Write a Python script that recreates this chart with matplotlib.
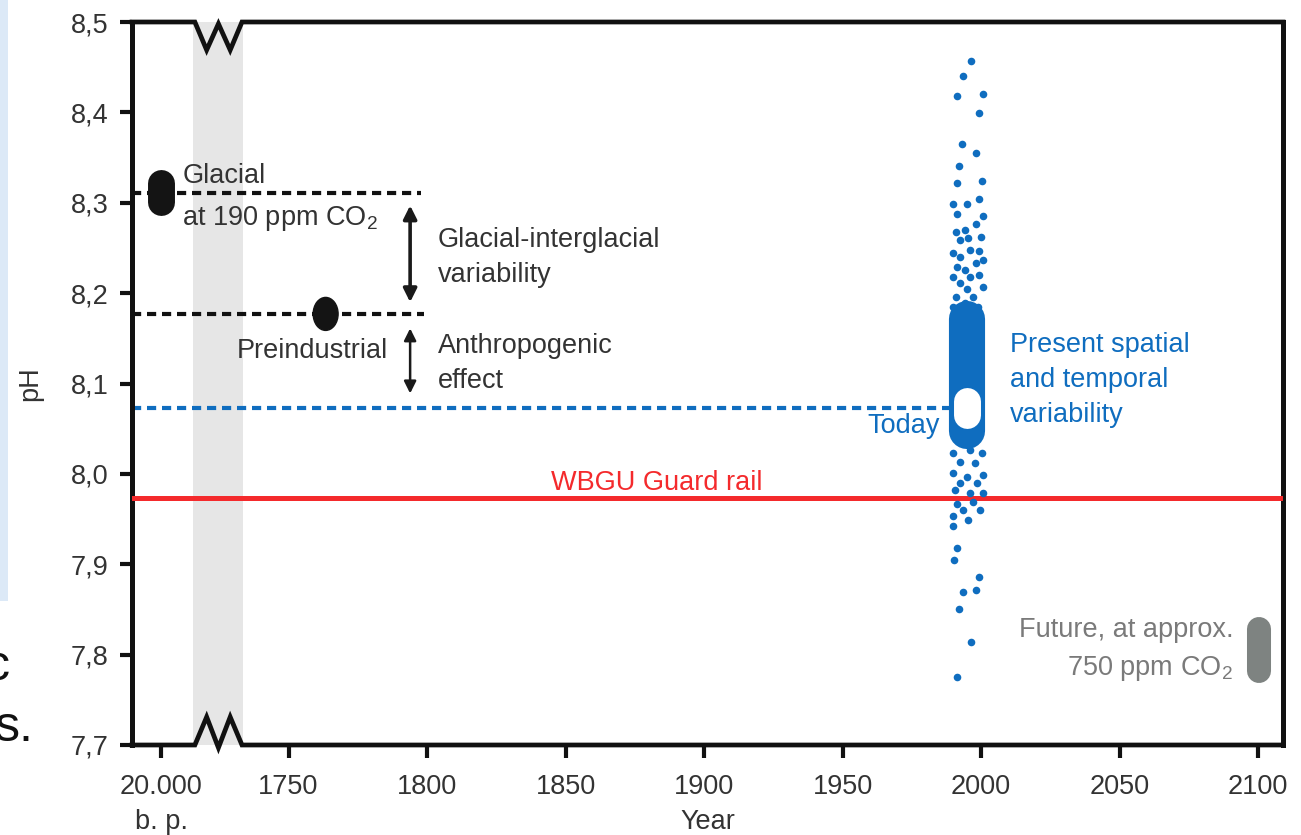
import matplotlib
matplotlib.use('Agg')
import matplotlib.pyplot as plt
from matplotlib.patches import Ellipse, Rectangle

plt.rcParams['font.family'] = ['Liberation Sans', 'DejaVu Sans']
plt.rcParams['mathtext.fontset'] = 'custom'
plt.rcParams['mathtext.rm'] = 'Liberation Sans'
plt.rcParams['mathtext.it'] = 'Liberation Sans:italic'

# axis ticks
year_ticks = [1750, 1800, 1850, 1900, 1950, 2000, 2050, 2100]
glacial_pos = 1704          # stand-in position for 20.000 b.p.
ph_ticks = [7.7, 7.8, 7.9, 8.0, 8.1, 8.2, 8.3, 8.4, 8.5]
ph_labels = ['7,7', '7,8', '7,9', '8,0', '8,1', '8,2', '8,3', '8,4', '8,5']

# reference levels
glacial_ph = 8.311
preind_ph = 8.177
preind_year = 1763.4
today_ph = 8.073
guardrail_ph = 7.973
future_year = 2100.4
future_lo, future_hi = 7.782, 7.828

# present spatial / temporal variability (dense core + single points)
core_year = 1995.0
core_lo, core_hi = 8.035, 8.183
pts_year = [1996.3, 1993.4, 1991.2, 2000.6, 1999.4, 1993.3, 1998.2, 1992.1, 1991.2, 2000.5,
            1990.0, 1991.2, 1994.8, 1999.4, 2000.6, 1991.0, 1994.2, 1998.2, 2000.0, 1992.4,
            1995.4, 1990.0, 1992.4, 1996.0, 1999.4, 2000.6, 1991.2, 1994.2, 1998.2, 1990.0,
            1996.0, 1999.4, 1992.4, 2000.6, 1994.8, 1991.0, 1997.2, 1990.0, 1994.2, 1999.0,
            1990.0, 1996.0, 2000.2, 1992.4, 1997.8, 1990.0, 1994.8, 2000.8, 1992.4, 1998.4,
            1990.6, 1996.0, 2000.8, 1991.2, 1997.2, 1993.6, 1999.6, 1990.0, 1995.4, 1990.0,
            1991.2, 1990.3, 1999.4, 1998.2, 1993.4, 1992.1, 1996.3, 1991.2]
pts_ph = [8.457, 8.440, 8.418, 8.420, 8.399, 8.365, 8.355, 8.341, 8.322, 8.324,
          8.299, 8.288, 8.299, 8.304, 8.285, 8.268, 8.270, 8.276, 8.262, 8.259,
          8.261, 8.244, 8.240, 8.248, 8.247, 8.237, 8.229, 8.226, 8.233, 8.218,
          8.218, 8.220, 8.211, 8.207, 8.205, 8.196, 8.196, 8.185, 8.189, 8.185,
          8.023, 8.026, 8.023, 8.013, 8.012, 8.001, 7.997, 7.999, 7.990, 7.990,
          7.982, 7.979, 7.979, 7.967, 7.969, 7.960, 7.960, 7.953, 7.949, 7.942,
          7.918, 7.905, 7.886, 7.872, 7.869, 7.851, 7.814, 7.775]

x0, x1 = 1693.5, 2109.0
band_l, band_r = 1715.5, 1733.6

dark = '#333333'
blue = '#0f6dbf'
red = '#f42a2c'
grey = '#7e8381'
fs = 19.5

fig = plt.figure(figsize=(13.01, 8.35), dpi=100)
ax = fig.add_axes([132 / 1301, 90 / 835, 1151 / 1301, 723 / 835])
ax.set_xlim(x0, x1)
ax.set_ylim(7.7, 8.5)

# grey band marking the axis break
ax.axvspan(band_l, band_r, color='#e6e6e6', lw=0, zorder=0)

# spines: left/right normal, top/bottom drawn with break marks
for s in ['top', 'bottom']:
    ax.spines[s].set_visible(False)
for s in ['left', 'right']:
    ax.spines[s].set_linewidth(3.6)
    ax.spines[s].set_color('#111111')
w = (band_r - band_l - 1.1) / 4
bx = [band_l + 0.7 + i * w for i in range(5)]
ax.plot([x0] + bx + [x1], [8.5, 8.5, 8.469, 8.498, 8.469, 8.5, 8.5], color='#111111',
        lw=3.4, clip_on=False, solid_capstyle='projecting', solid_joinstyle='miter', zorder=5)
ax.plot([x0] + bx + [x1], [7.7, 7.7, 7.731, 7.697, 7.731, 7.7, 7.7], color='#111111',
        lw=3.4, clip_on=False, solid_capstyle='projecting', solid_joinstyle='miter', zorder=5)

# reference lines
ax.plot([x0, 1798], [glacial_ph, glacial_ph], color='#111111', lw=3, ls=(0, (2.2, 1.4)), zorder=2)
ax.plot([x0, 1799], [preind_ph, preind_ph], color='#111111', lw=3, ls=(0, (2.2, 1.4)), zorder=2)
ax.plot([x0, 1989], [today_ph, today_ph], color=blue, lw=3, ls=(0, (2.2, 1.4)), zorder=2)
ax.axhline(guardrail_ph, color=red, lw=3.6, zorder=3)

# glacial and preindustrial markers
ax.plot([glacial_pos, glacial_pos], [glacial_ph - 0.0105, glacial_ph + 0.0105], color='#141414',
        lw=19.4, solid_capstyle='round', zorder=4)
ax.add_patch(Ellipse((preind_year, preind_ph), 9.0, 0.0365, color='#141414', zorder=4))

# arrows
ax.annotate('', xy=(1793.9, 8.297), xytext=(1793.9, 8.190),
            arrowprops=dict(arrowstyle='<|-|>', color='#1a1a1a', lw=2.6, mutation_scale=20,
                            shrinkA=0, shrinkB=0))
ax.annotate('', xy=(1793.9, 8.161), xytext=(1793.9, 8.089),
            arrowprops=dict(arrowstyle='<|-|>', color='#1a1a1a', lw=1.8, mutation_scale=18,
                            shrinkA=0, shrinkB=0))

# present variability
ax.plot([core_year, core_year], [core_lo + 0.012, core_hi - 0.012], color=blue, lw=26,
        solid_capstyle='round', zorder=4)
ax.scatter(pts_year, pts_ph, s=30, color=blue, lw=0, zorder=4)
ax.plot([core_year - 0.2, core_year - 0.2], [today_ph - 0.0077, today_ph + 0.0077], color='white',
        lw=19.4, solid_capstyle='round', zorder=5)

# future
ax.plot([future_year, future_year], [future_lo, future_hi], color=grey, lw=17.3,
        solid_capstyle='round', zorder=4)

# texts
ax.text(1711.6, 8.3219, 'Glacial', fontsize=fs, color=dark, va='baseline')
ax.text(1711.6, 8.2754, 'at 190 ppm CO$_2$', fontsize=fs, color=dark, va='baseline')
ax.text(1785.9, 8.128, 'Preindustrial', fontsize=fs, color=dark, ha='right', va='baseline')
ax.text(1804.0, 8.251, 'Glacial-interglacial', fontsize=fs, color=dark, va='baseline')
ax.text(1804.0, 8.2123, 'variability', fontsize=fs, color=dark, va='baseline')
ax.text(1804.0, 8.1337, 'Anthropogenic', fontsize=fs, color=dark, va='baseline')
ax.text(1804.0, 8.095, 'effect', fontsize=fs, color=dark, va='baseline')
ax.text(1985.2, 8.045, 'Today', fontsize=fs, color=blue, ha='right', va='baseline')
ax.text(2010.5, 8.135, 'Present spatial', fontsize=fs, color=blue, va='baseline')
ax.text(2010.5, 8.096, 'and temporal', fontsize=fs, color=blue, va='baseline')
ax.text(2010.5, 8.057, 'variability', fontsize=fs, color=blue, va='baseline')
ax.text(1883, 7.982, 'WBGU Guard rail', fontsize=fs, color=red, ha='center', va='baseline')
ax.text(2091, 7.8195, 'Future, at approx.', fontsize=fs, color='#7a7a7a', ha='right', va='baseline')
ax.text(2091, 7.7775, '750 ppm CO$_2$', fontsize=fs, color='#7a7a7a', ha='right', va='baseline')

# ticks
ax.set_xticks([glacial_pos] + year_ticks)
ax.set_xticklabels(['20.000\nb. p.'] + [str(y) for y in year_ticks])
for lab in ax.get_xticklabels():
    lab.set_linespacing(1.45)
ax.set_yticks(ph_ticks)
ax.set_yticklabels(ph_labels)
ax.tick_params(axis='both', direction='out', length=9, width=3, color='#111111',
               labelsize=fs, labelcolor=dark)
ax.tick_params(axis='x', pad=12)
ax.tick_params(axis='y', pad=8)
ax.set_xlabel('Year', fontsize=fs, color=dark, va='center')
ax.xaxis.set_label_coords(0.5, -0.107)
ax.set_ylabel('pH', fontsize=fs, color=dark, labelpad=20)

# slide remnants at the left edge
fig.patches.append(Rectangle((0, 0.28), 0.006, 0.72, transform=fig.transFigure,
                             color='#dce9f7', lw=0, zorder=0))
fig.text(-0.004, 0.113, 's.', fontsize=36, color='#111111')
fig.text(-0.012, 0.186, 'c', fontsize=36, color='#111111')

fig.savefig('out.png', dpi=100)
